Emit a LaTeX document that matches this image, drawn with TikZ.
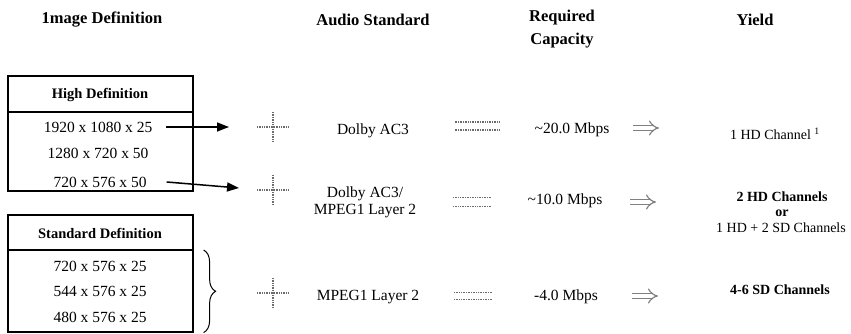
\documentclass[tikz,border=0pt]{standalone}
\usepackage{fontspec}
\setmainfont{Liberation Serif}
\usetikzlibrary{arrows.meta,decorations.pathreplacing}
\begin{document}
\begin{tikzpicture}[x=1pt,y=-1pt,
  txt/.style={font=\fontsize{15.5}{17}\selectfont, inner sep=0pt, align=center},
  hdr/.style={font=\fontsize{16.5}{23}\selectfont\bfseries, inner sep=0pt, align=center},
  boxhdr/.style={font=\fontsize{14.5}{17}\selectfont\bfseries, inner sep=0pt},
  yld/.style={font=\fontsize{14}{16}\selectfont, inner sep=0pt, align=center},
  yldb/.style={font=\fontsize{14}{16}\selectfont\bfseries, inner sep=0pt, align=center},
  framebox/.style={draw, line width=1.2pt, minimum width=185pt, inner sep=0pt},
  opnode/.style={inner sep=0pt, outer sep=0pt},
  opst/.style={gray!85!black, line width=1.8pt, dash pattern=on 1pt off 0.7pt},
  arr/.style={-{Triangle[length=12pt,width=9pt]}, line width=1.5pt},
  bracest/.style={decorate, decoration={brace, amplitude=12pt}, line width=1pt}
]
\useasboundingbox (0,0) rectangle (851,334);

% headers
\node[hdr] (h1) at (102,20) {1mage Definition};
\node[hdr] (h2) at (373,20) {Audio Standard};
\node[hdr, anchor=north] (h3) at (562,10) {Required\\Capacity};
\node[hdr] (h4) at (755,20) {Yield};

% HD box
\node[framebox, minimum height=115pt] (hdbox) at (100.5,133.5) {};
\coordinate (hdsepL) at (8,112);
\draw[line width=1.2pt] (hdsepL) -- (hdsepL -| hdbox.east);
\node[boxhdr] (hdh) at (100,95) {High Definition};
\node[txt] (hd1) at (98,127) {1920 x 1080 x 25};
\node[txt] (hd2) at (98,153) {1280 x 720 x 50};
\node[txt] (hd3) at (100,182) {720 x 576 x 50};

% SD box
\node[framebox, minimum height=117pt] (sdbox) at (100.5,273.5) {};
\coordinate (sdsepL) at (8,250);
\draw[line width=1.2pt] (sdsepL) -- (sdsepL -| sdbox.east);
\node[boxhdr] (sdh) at (100,233) {Standard Definition};
\node[txt] (sd1) at (100,266) {720 x 576 x 25};
\node[txt] (sd2) at (100,291) {544 x 576 x 25};
\node[txt] (sd3) at (100,317) {480 x 576 x 25};

% plus signs
\node[opnode, minimum width=32pt, minimum height=30pt] (p1) at (273,127) {};
\node[opnode, minimum width=32pt, minimum height=30pt] (p2) at (273,190) {};
\node[opnode, minimum width=32pt, minimum height=30pt] (p3) at (273,293) {};
\foreach \p in {p1,p2,p3}{
  \draw[opst] (\p.north) -- (\p.south) (\p.west) -- (\p.east);
}

% arrows from HD rows
\draw[arr] ([xshift=14pt]hd1.east) -- ([xshift=-28pt]p1.west);
\draw[arr] ([xshift=20pt]hd3.east) -- ([xshift=-18pt,yshift=2pt]p2.west);
% brace for SD rows
\draw[bracest] ([xshift=10pt]sdsepL -| sdbox.east) -- ([xshift=10pt]sdbox.south east);

% audio
\node[txt] (a1) at (373,131) {Dolby AC3};
\node[txt] (a2) at (365,202) {Dolby AC3/\\MPEG1 Layer 2};
\node[txt] (a3) at (368,297) {MPEG1 Layer 2};

% equal signs
\node[opnode, minimum width=45pt, minimum height=8pt] (e1) at (477,126) {};
\node[opnode, minimum width=38pt, minimum height=9pt] (e2) at (472,202) {};
\node[opnode, minimum width=38pt, minimum height=7pt] (e3) at (473,296) {};
\foreach \e in {e1,e2,e3}{
  \draw[opst, line width=1.3pt] (\e.north west) -- (\e.north east) (\e.south west) -- (\e.south east);
}

% capacity
\node[txt] (c1) at (572,130) {\textasciitilde 20.0 Mbps};
\node[txt] (c2) at (565,201) {\textasciitilde 10.0 Mbps};
\node[txt] (c3) at (566,297) {-4.0 Mbps};

% implies arrows
\node[opnode, minimum width=26pt, minimum height=20pt] (i1) at (646,128) {};
\node[opnode, minimum width=26pt, minimum height=20pt] (i2) at (643,202) {};
\node[opnode, minimum width=26pt, minimum height=20pt] (i3) at (645,296) {};
\foreach \i in {i1,i2,i3}{
  \draw[gray, line width=1.2pt, double distance=4pt, -{Implies}] (\i.west) -- (\i.east);
}

% yield
\node[yld] (y1) at (775,134) {1 HD Channel \textsuperscript{1}};
\node[yldb] (y2) at (782,197) {2 HD Channels};
\node[yldb] (y2o) at (782,213) {or};
\node[yld] (y2b) at (781,228) {1 HD + 2 SD Channels};
\node[yldb] (y3) at (780,290) {4-6 SD Channels};
\end{tikzpicture}
\end{document}
